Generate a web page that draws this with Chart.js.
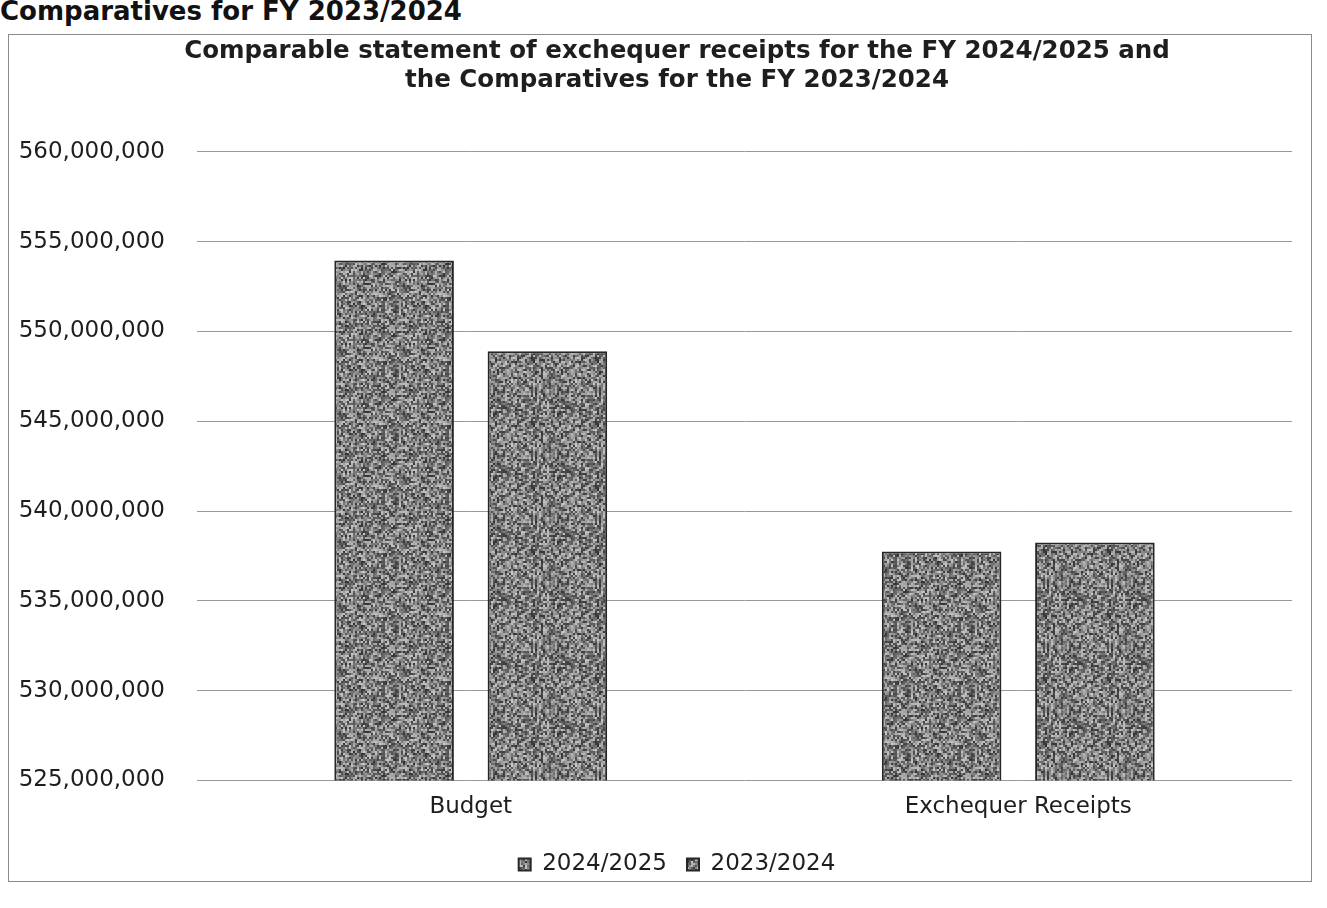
<!DOCTYPE html>
<html>
<head>
<meta charset="utf-8">
<script src="https://cdn.jsdelivr.net/npm/chart.js@4.4.1/dist/chart.umd.min.js"></script>
<style>
    body { margin: 0; background: #fff; width: 1327px; height: 908px; overflow: hidden; position: relative; }
    #heading { position: absolute; left: 0; top: -4px; font: bold 26px "DejaVu Sans", sans-serif; color: #111; }
    #box { position: absolute; left: 8px; top: 34px; width: 1304px; height: 848px; border: 1px solid #8a8a8a; box-sizing: border-box; z-index: 2; pointer-events: none; }
    #wrap { position: absolute; left: 9px; top: 35px; width: 1326px; height: 846px; }
</style>
</head>
<body>
<div id="heading">Comparatives for FY 2023/2024</div>
<div id="wrap"><canvas id="receiptsChart"></canvas></div>
<div id="box"></div>
<script>
const categories = ['Budget', 'Exchequer Receipts']
const fy2425 = [553950000, 537750000]
const fy2324 = [548900000, 538250000]
const seriesLabels = ['2024/2025', '2023/2024']
const titleLines = [
    'Comparable statement of exchequer receipts for the FY 2024/2025 and',
    'the Comparatives for the FY 2023/2024'
]
const yMin = 525000000
const yMax = 560000000
const yStep = 5000000

window.addEventListener('load', () => {
    // grey speckled fill like the scanned bars
    const makeNoise = (seed) => {
        const c = document.createElement('canvas')
        c.width = 64
        c.height = 64
        const ctx = c.getContext('2d')
        let s = seed
        for (let y = 0; y < 64; y += 2) {
            for (let x = 0; x < 64; x += 2) {
                s = (s * 1103515245 + 12345) & 0x7fffffff
                const v = 50 + (s >> 8) % 150
                ctx.fillStyle = `rgb(${v},${v},${v})`
                ctx.fillRect(x, y, 2, 2)
            }
        }
        return ctx.createPattern(c, 'repeat')
    }

    const font = { family: '"DejaVu Sans", sans-serif', size: 23 }
    const textColor = '#1e1e1e'

    new Chart(document.getElementById('receiptsChart'), {
        type: 'bar',
        data: {
            labels: categories,
            datasets: [
                {
                    label: seriesLabels[0],
                    data: fy2425,
                    backgroundColor: makeNoise(17),
                    borderColor: '#262626',
                    borderWidth: 2
                },
                {
                    label: seriesLabels[1],
                    data: fy2324,
                    backgroundColor: makeNoise(91),
                    borderColor: '#262626',
                    borderWidth: 2
                }
            ]
        },
        options: {
            responsive: true,
            maintainAspectRatio: false,
            animation: false,
            categoryPercentage: 0.56,
            barPercentage: 0.78,
            layout: { padding: { left: 10, right: 0, top: 2, bottom: -5 } },
            plugins: {
                title: {
                    display: true,
                    text: titleLines,
                    color: textColor,
                    font: { family: '"DejaVu Sans", sans-serif', size: 24.5, weight: 'bold', lineHeight: 1.2 },
                    padding: { top: 0, bottom: 56 }
                },
                legend: {
                    position: 'bottom',
                    labels: {
                        color: textColor,
                        font: font,
                        boxWidth: 12,
                        boxHeight: 12,
                        padding: 20
                    }
                },
                tooltip: { enabled: false }
            },
            scales: {
                x: {
                    grid: { display: false },
                    border: { display: false },
                    ticks: { color: textColor, font: font, padding: 5 },
                    afterFit: (scale) => { scale.height += 7 }
                },
                y: {
                    min: yMin,
                    max: yMax,
                    border: { display: false },
                    grid: { color: '#999999', lineWidth: 1, drawTicks: false },
                    ticks: {
                        stepSize: yStep,
                        color: textColor,
                        font: font,
                        padding: 32,
                        callback: (v) => v.toLocaleString('en-US')
                    },
                    afterFit: (scale) => { scale.width = 178 }
                },
                // empty right-hand spacer so the plot ends where the scan's does
                spacer: {
                    type: 'linear',
                    position: 'right',
                    display: true,
                    grid: { display: false },
                    border: { display: false },
                    ticks: { display: false },
                    afterFit: (scale) => { scale.width = 43 }
                }
            }
        }
    })
})
</script>
</body>
</html>
